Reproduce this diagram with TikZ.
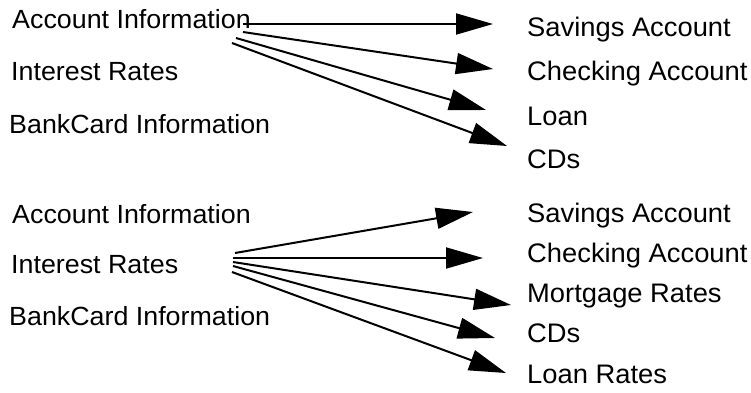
\documentclass[tikz,border=0pt]{standalone}
\usepackage{fontspec}
\setmainfont{Liberation Sans}[FakeStretch=1.02]
\usetikzlibrary{arrows.meta}
\begin{document}
\begin{tikzpicture}[x=1pt,y=-1pt,
  label/.style={anchor=base west,inner sep=0pt,font=\fontsize{26.8}{28}\selectfont},
  source/.style={label,font=\fontsize{26.3}{28}\selectfont},
  link/.style={line width=2pt,-{Triangle[length=37pt,width=21pt]}}]
\useasboundingbox (0,0) rectangle (751,392);

% upper group: sources
\node[source] (ai1) at (12,28)  {Account Information};
\node[source] (ir1) at (11,80)  {Interest Rates};
\node[source] (bc1) at (9,133)  {BankCard Information};
% upper group: targets
\node[label] (sa1) at (527,36)  {Savings Account};
\node[label] (ca1) at (527,80)  {Checking Account};
\node[label] (ln1) at (527,125) {Loan};
\node[label] (cd1) at (527,168) {CDs};

% lower group: sources
\node[source] (ai2) at (12,223) {Account Information};
\node[source] (ir2) at (11,273) {Interest Rates};
\node[source] (bc2) at (9,325)  {BankCard Information};
% lower group: targets
\node[label] (sa2) at (527,222) {Savings Account};
\node[label] (ca2) at (527,262) {Checking Account};
\node[label] (mr2) at (527,302) {Mortgage Rates};
\node[label] (cd2) at (527,342) {CDs};
\node[label] (lr2) at (527,383) {Loan Rates};

% arrow ends, upper group
\coordinate (u1s) at (243,24);  \coordinate (u1e) at (493,24);
\coordinate (u2s) at (243,32);  \coordinate (u2e) at (493,69);
\coordinate (u3s) at (236,38);  \coordinate (u3e) at (486,110);
\coordinate (u4s) at (232,43);  \coordinate (u4e) at (507,146);
% arrow ends, lower group
\coordinate (l1s) at (235,253); \coordinate (l1e) at (473,212);
\coordinate (l2s) at (233,258); \coordinate (l2e) at (483,258);
\coordinate (l3s) at (233,262); \coordinate (l3e) at (511,305);
\coordinate (l4s) at (233,266); \coordinate (l4e) at (495,338);
\coordinate (l5s) at (232,272); \coordinate (l5e) at (506,373);

\draw[link] (u1s) -- (u1e);
\draw[link] (u2s) -- (u2e);
\draw[link] (u3s) -- (u3e);
\draw[link] (u4s) -- (u4e);

\draw[link] (l1s) -- (l1e);
\draw[link] (l2s) -- (l2e);
\draw[link] (l3s) -- (l3e);
\draw[link] (l4s) -- (l4e);
\draw[link] (l5s) -- (l5e);
\end{tikzpicture}
\end{document}
